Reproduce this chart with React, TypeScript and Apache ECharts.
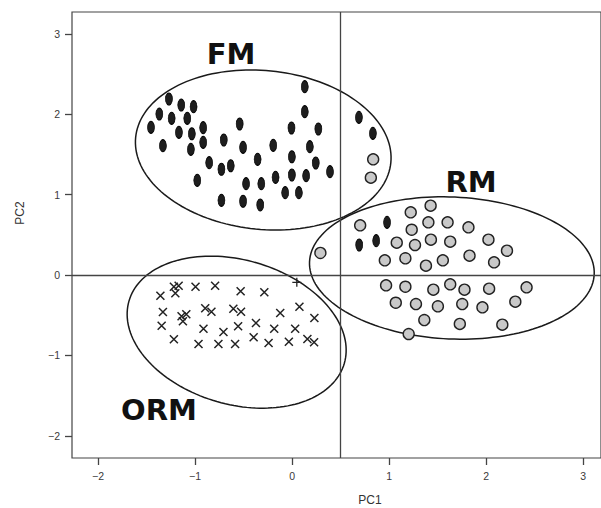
import React, { useEffect, useRef } from "react";
import * as echarts from "echarts";

// PC1, PC2 scores
const fmDark: number[][] = [
  [-1.269, 2.189], [-1.142, 2.114], [-1.015, 2.093], [-1.368, 2.002], [-1.241, 1.949],
  [-1.080, 1.949], [-1.454, 1.837], [-1.166, 1.775], [-1.033, 1.757], [-0.916, 1.832],
  [-0.916, 1.650], [-1.331, 1.608], [-1.043, 1.563], [-0.704, 1.679], [-0.540, 1.878],
  [-0.505, 1.588], [-0.854, 1.397], [-0.728, 1.315], [-0.632, 1.359], [-0.977, 1.178],
  [-0.355, 1.439], [-0.194, 1.613], [-0.474, 1.136], [-0.317, 1.136], [-0.170, 1.215],
  [-0.002, 1.244], [-0.002, 1.471], [-0.006, 1.828], [0.131, 2.342], [0.131, 2.031],
  [0.271, 1.816], [0.183, 1.596], [0.244, 1.393], [0.145, 1.235], [0.391, 1.285],
  [-0.071, 1.024], [0.070, 1.024], [-0.728, 0.929], [-0.505, 0.917], [-0.328, 0.871],
  [0.689, 1.961], [0.833, 1.762], [0.979, 0.655], [0.867, 0.427], [0.692, 0.373],
];

const rmGray: number[][] = [
  [0.836, 1.439], [0.812, 1.210], [0.292, 0.274], [0.702, 0.618], [1.223, 0.780],
  [1.428, 0.862], [1.405, 0.655], [1.603, 0.655], [1.818, 0.593], [1.233, 0.563],
  [1.079, 0.402], [1.267, 0.373], [1.431, 0.439], [1.630, 0.414], [2.024, 0.439],
  [2.215, 0.302], [0.956, 0.183], [1.168, 0.208], [1.380, 0.116], [1.554, 0.183],
  [1.829, 0.240], [2.082, 0.158], [0.969, -0.128], [1.168, -0.146], [1.456, -0.183],
  [1.630, -0.116], [1.777, -0.183], [2.031, -0.170], [2.417, -0.153], [1.069, -0.345],
  [1.277, -0.361], [1.503, -0.389], [1.754, -0.361], [1.962, -0.402], [2.301, -0.332],
  [1.363, -0.560], [1.729, -0.609], [2.167, -0.618], [1.202, -0.734],
];

const ormCross: number[][] = [
  [-1.357, -0.257], [-1.218, -0.146], [-1.169, -0.133], [-1.203, -0.228], [-0.995, -0.146],
  [-0.793, -0.133], [-0.530, -0.203], [-0.286, -0.215], [-1.331, -0.460], [-1.344, -0.631],
  [-1.139, -0.514], [-1.090, -0.489], [-1.125, -0.576], [-0.895, -0.414], [-0.831, -0.456],
  [-0.605, -0.419], [-0.526, -0.456], [-0.913, -0.668], [-0.707, -0.709], [-0.556, -0.638],
  [-0.372, -0.597], [-0.184, -0.668], [-0.122, -0.473], [0.076, -0.394], [0.230, -0.535],
  [0.032, -0.668], [-1.218, -0.800], [-0.964, -0.858], [-0.759, -0.858], [-0.587, -0.858],
  [-0.396, -0.775], [-0.242, -0.846], [-0.033, -0.830], [0.158, -0.796], [0.227, -0.837],
];

const plusPoints: number[][] = [[0.049, -0.091]];

// ellipses: centre x, centre y, major semi-axis vector (x, y), minor semi-axis vector (x, y)
const ellipses: number[][] = [
  [-0.297, 1.555, 1.315, -0.157, -0.080, -0.983],
  [1.647, 0.087, 1.467, -0.077, -0.032, -0.882],
  [-0.571, -0.711, 1.110, -0.386, -0.204, -0.863],
];

const groupLabels = ["FM", "RM", "ORM"];
const xTicks = [-2, -1, 0, 1, 2, 3];
const yTicks = [-2, -1, 0, 1, 2, 3];

const fmt = (v: number) => (v < 0 ? "\u2212" + Math.abs(v) : String(v));

export default function App() {
  const ref = useRef<HTMLDivElement>(null);
  useEffect(() => {
    if (!ref.current) return;
    const chart = echarts.init(ref.current, null, { renderer: "svg" });
    const axisCommon = {
      type: "value" as const,
      splitLine: { show: false },
      axisLine: { show: false, onZero: false },
      axisTick: { show: true, length: 7, lineStyle: { color: "#444", width: 1.3 } },
      axisLabel: {
        color: "#3a3a3a",
        fontSize: 10.5,
        fontFamily: "Liberation Sans, Arial, sans-serif",
        formatter: (v: number) => fmt(v),
      },
    };
    const labelStyle = {
      fontFamily: "DejaVu Sans",
      fontWeight: "bold",
      fontSize: 29,
      fill: "#111",
    };
    chart.setOption({
      animation: false,
      backgroundColor: "#fff",
      grid: {
        left: 72,
        top: 12,
        width: 531,
        height: 446,
        show: true,
        borderColor: "#444",
        borderWidth: 1.2,
        backgroundColor: "transparent",
      },
      xAxis: {
        ...axisCommon,
        position: "bottom",
        min: -2.268,
        max: 3.184,
        axisTick: { ...axisCommon.axisTick, customValues: xTicks },
        axisLabel: { ...axisCommon.axisLabel, customValues: xTicks, margin: 12 },
      },
      yAxis: {
        ...axisCommon,
        position: "left",
        min: -2.276,
        max: 3.271,
        axisTick: { ...axisCommon.axisTick, customValues: yTicks },
        axisLabel: { ...axisCommon.axisLabel, customValues: yTicks, margin: 12 },
      },
      graphic: [
        { type: "text", x: 231, y: 54, style: { ...labelStyle, text: groupLabels[0], align: "center", verticalAlign: "middle" } },
        { type: "text", x: 471, y: 182, style: { ...labelStyle, text: groupLabels[1], align: "center", verticalAlign: "middle" } },
        { type: "text", x: 159, y: 410, style: { ...labelStyle, text: groupLabels[2], align: "center", verticalAlign: "middle" } },
        {
          type: "text", x: 370, y: 500,
          style: { text: "PC1", fontSize: 12, fill: "#333", fontFamily: "Liberation Sans, Arial, sans-serif", align: "center", verticalAlign: "middle" },
        },
        {
          type: "text", x: 20, y: 213, rotation: Math.PI / 2,
          style: { text: "PC2", fontSize: 12, fill: "#333", fontFamily: "Liberation Sans, Arial, sans-serif", align: "center", verticalAlign: "middle" },
        },
      ],
      series: [
        {
          type: "custom",
          z: 1,
          clip: false,
          encode: { x: 0, y: 1 },
          data: ellipses,
          markLine: {
            silent: true,
            symbol: "none",
            label: { show: false },
            lineStyle: { color: "#444", width: 1.3, type: "solid" },
            data: [{ xAxis: 0.5 }, { yAxis: 0 }],
          },
          renderItem: (params: any, api: any) => {
            const cx = api.value(0), cy = api.value(1);
            const ux = api.value(2), uy = api.value(3);
            const vx = api.value(4), vy = api.value(5);
            const pts: number[][] = [];
            const n = 160;
            for (let i = 0; i < n; i++) {
              const t = (2 * Math.PI * i) / n;
              const c = Math.cos(t), s = Math.sin(t);
              pts.push(api.coord([cx + ux * c + vx * s, cy + uy * c + vy * s]));
            }
            return {
              type: "polygon",
              shape: { points: pts },
              style: { fill: "none", stroke: "#1a1a1a", lineWidth: 1.5 },
            };
          },
        },
        {
          type: "scatter",
          z: 3,
          data: fmDark,
          symbol: "circle",
          symbolSize: [7, 12],
          itemStyle: { color: "#1e1e1e", borderColor: "#000", borderWidth: 0.8, opacity: 1 },
        },
        {
          type: "scatter",
          z: 3,
          data: rmGray,
          symbol: "circle",
          symbolSize: 11,
          itemStyle: { color: "#c9c9c9", borderColor: "#222", borderWidth: 1.4, opacity: 1 },
        },
        {
          type: "scatter",
          z: 3,
          data: ormCross,
          symbol: "path://M0,0L10,10M10,0L0,10",
          symbolSize: 8,
          itemStyle: { color: "none", borderColor: "#222", borderWidth: 1.5, opacity: 1 },
        },
        {
          type: "scatter",
          z: 3,
          data: plusPoints,
          symbol: "path://M5,0L5,10M0,5L10,5",
          symbolSize: 9,
          itemStyle: { color: "none", borderColor: "#222", borderWidth: 1.3, opacity: 1 },
        },
      ],
    });
    return () => chart.dispose();
  }, []);
  return (
    <div
      ref={ref}
      style={{ position: "fixed", left: 0, top: 0, width: 601, height: 508, background: "#fff" }}
    />
  );
}
